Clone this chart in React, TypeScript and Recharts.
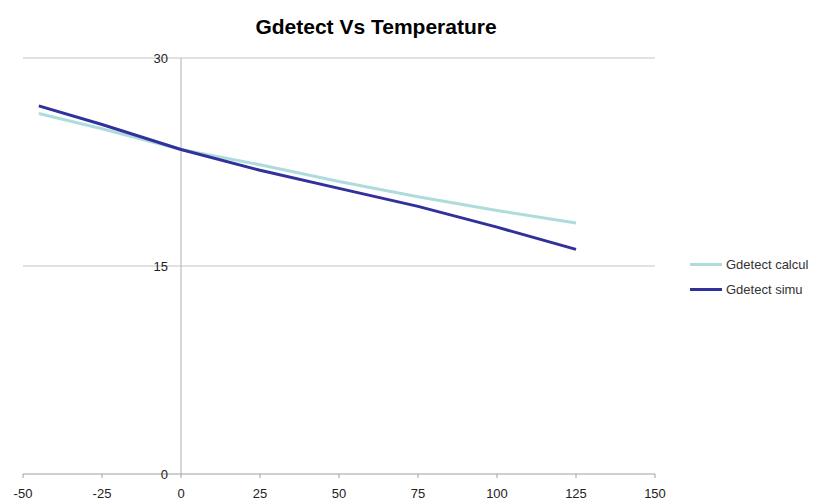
import { FC } from 'react';
import { LineChart, Line, XAxis, YAxis, ReferenceLine, ReferenceDot } from 'recharts';

// temperature (°C)
const temps = [-45, -25, 0, 25, 50, 75, 100, 125];
const gdetectCalcul = [26.0, 24.9, 23.4, 22.3, 21.1, 20.0, 19.0, 18.1];
const gdetectSimu = [26.55, 25.2, 23.4, 21.9, 20.6, 19.3, 17.8, 16.2];

const xTicks = [-50, -25, 0, 25, 50, 75, 100, 125, 150];
const yTicks = [0, 15, 30];

const series = [
    { key: 'calcul', name: 'Gdetect calcul', color: '#aedcdd' },
    { key: 'simu', name: 'Gdetect simu', color: '#31319c' },
];

const data = temps.map((t, i) => ({ temp: t, calcul: gdetectCalcul[i], simu: gdetectSimu[i] }));

const font = 'Liberation Sans, Arial, sans-serif';

const App: FC = () => {
    return (
        <div style={{ position: 'absolute', left: 0, top: 0, width: 827, height: 500, background: '#fff' }}>
            <div
                style={{
                    position: 'absolute',
                    left: 0,
                    width: 752,
                    top: 15,
                    textAlign: 'center',
                    fontFamily: font,
                    fontWeight: 'bold',
                    fontSize: 21,
                    color: '#000',
                }}
            >
                Gdetect Vs Temperature
            </div>

            {/* légende */}
            <div style={{ position: 'absolute', left: 690, top: 252, fontFamily: font, fontSize: 13, color: '#333' }}>
                {series.map((s) => (
                    <div key={s.key} style={{ display: 'flex', alignItems: 'center', height: 25 }}>
                        <div style={{ width: 32, height: 3, background: s.color, marginRight: 4 }} />
                        <span>{s.name}</span>
                    </div>
                ))}
            </div>

            <LineChart width={827} height={500} data={data} margin={{ top: 58, right: 172, bottom: 6, left: 23 }}>
                <XAxis
                    dataKey="temp"
                    type="number"
                    domain={[-50, 150]}
                    ticks={xTicks}
                    interval={0}
                    height={20}
                    stroke="#a0a0a0"
                    tickSize={4}
                    tickMargin={11}
                    tick={{ fill: '#222', fontSize: 13, fontFamily: font }}
                />
                <YAxis hide type="number" domain={[0, 30]} ticks={yTicks} />
                <ReferenceLine y={30} stroke="#c4c4c4" />
                <ReferenceLine y={15} stroke="#c4c4c4" />
                <ReferenceLine x={0} stroke="#b0b0b0" />
                {yTicks.map((v) => (
                    <ReferenceDot
                        key={v}
                        x={0}
                        y={v}
                        r={0}
                        fill="none"
                        stroke="none"
                        label={{ value: String(v), position: 'left', offset: 13, fill: '#222', fontSize: 13, fontFamily: font }}
                    />
                ))}
                {series.map((s) => (
                    <Line
                        key={s.key}
                        dataKey={s.key}
                        name={s.name}
                        stroke={s.color}
                        strokeWidth={3}
                        dot={false}
                        isAnimationActive={false}
                    />
                ))}
            </LineChart>
        </div>
    );
};

export default App;
